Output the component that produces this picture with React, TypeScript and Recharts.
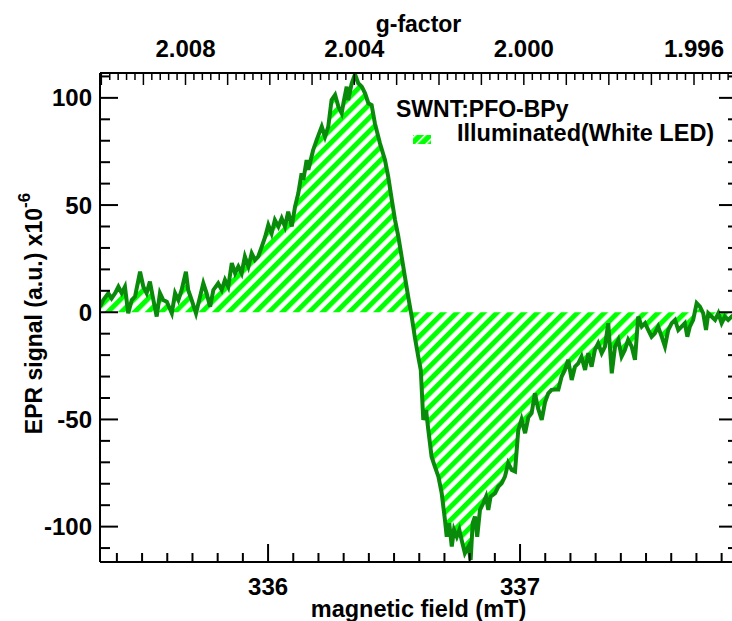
import React from 'react';
import { ComposedChart, Area, XAxis, YAxis, Legend } from 'recharts';

// magnetic field (mT)
const FIELD = [
  335.333, 335.346, 335.366, 335.379, 335.393, 335.406, 335.419, 335.432, 335.445, 335.459,
  335.472, 335.492, 335.505, 335.518, 335.531, 335.545, 335.558, 335.571, 335.584, 335.598,
  335.618, 335.631, 335.644, 335.657, 335.674, 335.683, 335.697, 335.714, 335.730, 335.743,
  335.756, 335.770, 335.783, 335.802, 335.816, 335.829, 335.842, 335.856, 335.869, 335.882,
  335.895, 335.908, 335.922, 335.935, 335.948, 335.961, 335.975, 335.988, 336.001, 336.014,
  336.027, 336.041, 336.054, 336.067, 336.080, 336.094, 336.107, 336.120, 336.133, 336.140,
  336.153, 336.160, 336.166, 336.179, 336.193, 336.213, 336.226, 336.239, 336.252, 336.266,
  336.279, 336.292, 336.299, 336.312, 336.318, 336.332, 336.345, 336.358, 336.372, 336.385,
  336.398, 336.411, 336.424, 336.444, 336.464, 336.477, 336.491, 336.504, 336.517, 336.530,
  336.543, 336.556, 336.570, 336.583, 336.596, 336.606, 336.610, 336.614, 336.616, 336.627,
  336.636, 336.649, 336.662, 336.676, 336.689, 336.702, 336.709, 336.719, 336.729, 336.738,
  336.749, 336.759, 336.768, 336.781, 336.795, 336.804, 336.812, 336.821, 336.830, 336.841,
  336.854, 336.865, 336.874, 336.883, 336.901, 336.914, 336.927, 336.940, 336.953, 336.967,
  336.980, 336.993, 337.006, 337.020, 337.033, 337.046, 337.059, 337.072, 337.086, 337.099,
  337.112, 337.125, 337.139, 337.152, 337.165, 337.178, 337.191, 337.205, 337.218, 337.231,
  337.244, 337.258, 337.271, 337.284, 337.297, 337.310, 337.324, 337.337, 337.350, 337.364,
  337.377, 337.390, 337.403, 337.416, 337.429, 337.443, 337.456, 337.469, 337.483, 337.496,
  337.509, 337.522, 337.535, 337.548, 337.562, 337.575, 337.588, 337.602, 337.615, 337.628,
  337.641, 337.654, 337.664, 337.674, 337.687, 337.701, 337.714, 337.727, 337.738, 337.747,
  337.760, 337.774, 337.787, 337.800, 337.813, 337.826, 337.840, 337.853, 337.861,
];

// EPR signal (a.u.) x10^-6
const SIGNAL = [
  2.6, 5.7, 8.9, 6.5, 8.9, 11.9, 8.9, 11.9, -0.5, 5.7,
  7.3, 18.9, 11.9, 8.9, 14.3, 5.7, -2, 8.9, 5.7, 4.9,
  -0.5, 8.9, 5.7, 10.4, 18.9, 10.4, 5.7, -0.5, 7.3, 13.5,
  8.9, 2.6, 10.4, 13.5, 10.4, 15.1, 11.9, 22.9, 18.2, 21.3,
  18.2, 26, 21.3, 27.5, 24.4, 26, 30.6, 35, 40.7, 36.8,
  43, 40, 43.8, 40, 46.9, 40, 49.3, 55.5, 64.8, 61.7,
  71, 66.4, 69.5, 75.7, 80.4, 86.6, 81.9, 86.6, 99, 101.4,
  95.9, 92.8, 97.5, 105.2, 99, 106.8, 111, 106.8, 105.2, 102.1,
  97.5, 96.7, 88.1, 78.8, 71, 63.2, 52.4, 43, 35.3, 26,
  16.6, 7.3, -2, -12, -20.7, -26.9, -36.2, -45.6, -50.2, -45.6,
  -54.9, -67.4, -72, -76.7, -84.4, -96.9, -104.7, -98.4, -109.3, -101.5,
  -104.7, -101.5, -106.2, -112.4, -109.3, -115.5, -98.4, -95.3, -104.7, -92.2,
  -89.1, -86, -92.2, -86, -84.4, -81.3, -79.8, -76.7, -70.4, -73.6,
  -74.3, -55, -50, -56.4, -49, -47.1, -37.8, -45, -50.2, -42,
  -37.8, -36.2, -36, -36, -30, -26.9, -22.2, -31.6, -25.4, -23.8,
  -20.7, -26.9, -19.1, -25.4, -17.6, -14.5, -19.1, -16, -5.1, -28.5,
  -16, -12.9, -20.7, -17.6, -12.9, -16, -22.2, -2, -6.7, -5.1,
  -8.3, -11.4, -9.8, -6.7, -11.4, -16, -8.3, -5.1, -3.6, -8.3,
  -6.7, -5.1, -11.4, -6.7, -3.6, 4.2, 2.6, -0.5, -8.3, -0.5,
  -2, -3.6, -0.5, -5.1, -2, -3.6, -2, -3, -2.5,
];

const X_DOMAIN = [335.333, 337.861];
const Y_DOMAIN = [-116.5, 111.6];
const FIELD_TICKS = [
  335.4, 335.5, 335.6, 335.7, 335.8, 335.9, 336.0, 336.1, 336.2, 336.3, 336.4, 336.5, 336.6,
  336.7, 336.8, 336.9, 337.0, 337.1, 337.2, 337.3, 337.4, 337.5, 337.6, 337.7, 337.8,
];
const FIELD_LABELS = [336, 337];
const SIGNAL_TICKS = [-110, -100, -90, -80, -70, -60, -50, -40, -30, -20, -10, 0, 10, 20, 30, 40, 50, 60, 70, 80, 90, 100, 110];
const SIGNAL_LABELS = [-100, -50, 0, 50, 100];
const G_LABELS = ['2.008', '2.004', '2.000', '1.996'];
const G_FIRST = 2.01;
const G_LAST = 1.995;
const G_STEP = 0.0002;
const G_TIMES_B = 674.03; // g * B[mT] at this microwave frequency

const data = FIELD.map((f, i) => ({ field: f, signal: SIGNAL[i] }));

// g-factor ticks placed on the field scale (B = const / g)
const gTicks: number[] = [];
for (let i = 0; G_FIRST - i * G_STEP >= G_LAST - 1e-9; i++) {
  gTicks.push(G_TIMES_B / (G_FIRST - i * G_STEP));
}

const FONT = "'Liberation Sans', Arial, sans-serif";
const LINE_GREEN = '#0a8a0a';
const HATCH_GREEN = '#00ff00';

const BottomTick = (props: any) => {
  const { x, y, payload } = props;
  const v = payload.value;
  const major = FIELD_LABELS.some((l) => Math.abs(l - v) < 1e-6);
  return (
    <g>
      <line x1={x} x2={x} y1={y} y2={y - (major ? 18 : 9)} stroke="#000" strokeWidth={2} />
      {major && (
        <text x={x} y={y + 33} textAnchor="middle" fontSize={24} fontWeight="bold" fontFamily={FONT} fill="#000">
          {Math.round(v)}
        </text>
      )}
    </g>
  );
};

const TopTick = (props: any) => {
  const { x, y, payload } = props;
  const g = G_TIMES_B / payload.value;
  const major = Math.abs(g * 1000 - Math.round(g * 1000)) < 1e-4;
  const label = g.toFixed(3);
  return (
    <g>
      <line x1={x} x2={x} y1={y} y2={y + (major ? 12 : 7)} stroke="#000" strokeWidth={1.5} />
      {major && G_LABELS.includes(label) && (
        <text x={x} y={y - 16} textAnchor="middle" fontSize={24} fontWeight="bold" fontFamily={FONT} fill="#000">
          {label}
        </text>
      )}
    </g>
  );
};

const LeftTick = (props: any) => {
  const { x, y, payload } = props;
  const v = payload.value;
  const major = SIGNAL_LABELS.includes(v);
  return (
    <g>
      <line x1={x} x2={x + (major ? 18 : 10)} y1={y} y2={y} stroke="#000" strokeWidth={2} />
      {major && (
        <text x={x - 8} y={y + 8.5} textAnchor="end" fontSize={24} fontWeight="bold" fontFamily={FONT} fill="#000">
          {v}
        </text>
      )}
    </g>
  );
};

const RightTick = (props: any) => {
  const { x, y, payload } = props;
  const major = SIGNAL_LABELS.includes(payload.value);
  return <line x1={x} x2={x - (major ? 18 : 9)} y1={y} y2={y} stroke="#000" strokeWidth={2} />;
};

const renderLegend = (props: any) => {
  const name = props.payload && props.payload[0] ? props.payload[0].value : '';
  return (
    <svg width={340} height={60} style={{ display: 'block' }}>
      <defs>
        <pattern id="hatchIcon" patternUnits="userSpaceOnUse" width={7} height={7} patternTransform="rotate(45)">
          <rect width={7} height={7} fill={HATCH_GREEN} />
          <rect width={1.5} height={7} fill="#fff" />
        </pattern>
      </defs>
      <text x={6} y={27} fontSize={23} fontWeight="bold" fontFamily={FONT} fill="#000">SWNT:PFO-BPy</text>
      <rect x={23} y={45} width={18} height={9} fill="url(#hatchIcon)" />
      <text x={67} y={51} fontSize={23.5} fontWeight="bold" fontFamily={FONT} fill="#000">{name}</text>
    </svg>
  );
};

export default function App() {
  return (
    <div style={{ position: 'absolute', left: 0, top: 0, width: 732, height: 621, overflow: 'hidden', background: '#fff' }}>
      <ComposedChart width={747} height={621} data={data} margin={{ top: 33, right: 0, bottom: 0, left: 40 }}>
        <defs>
          <pattern id="hatch" patternUnits="userSpaceOnUse" width={9.5} height={9.5} patternTransform="rotate(45)">
            <rect width={9.5} height={9.5} fill="#fff" />
            <rect width={5} height={9.5} fill={HATCH_GREEN} />
          </pattern>
        </defs>
        <XAxis
          xAxisId="bottom"
          dataKey="field"
          type="number"
          domain={X_DOMAIN}
          allowDataOverflow
          ticks={FIELD_TICKS}
          interval={0}
          height={59}
          tickSize={0}
          tickMargin={0}
          tickLine={false}
          axisLine={{ stroke: '#000', strokeWidth: 2 }}
          tick={BottomTick}
          label={(p: any) => {
            const vb = p.viewBox;
            return (
              <text x={vb.x + vb.width / 2} y={vb.y + 55} textAnchor="middle" fontSize={23.5} fontWeight="bold" fontFamily={FONT} fill="#000">
                magnetic field (mT)
              </text>
            );
          }}
        />
        <XAxis
          xAxisId="top"
          orientation="top"
          dataKey="field"
          type="number"
          domain={X_DOMAIN}
          allowDataOverflow
          ticks={gTicks}
          interval={0}
          height={40}
          tickSize={0}
          tickMargin={0}
          tickLine={false}
          axisLine={{ stroke: '#000', strokeWidth: 2 }}
          tick={TopTick}
          label={(p: any) => {
            const vb = p.viewBox;
            return (
              <text x={vb.x + vb.width / 2} y={vb.y - 1} textAnchor="middle" fontSize={23} fontWeight="bold" fontFamily={FONT} fill="#000">
                g-factor
              </text>
            );
          }}
        />
        <YAxis
          yAxisId="left"
          type="number"
          domain={Y_DOMAIN}
          allowDataOverflow
          ticks={SIGNAL_TICKS}
          interval={0}
          width={60}
          tickSize={0}
          tickMargin={0}
          tickLine={false}
          axisLine={{ stroke: '#000', strokeWidth: 2 }}
          tick={LeftTick}
          label={(p: any) => {
            const vb = p.viewBox;
            const cx = vb.x - 6;
            const cy = vb.y + vb.height / 2 - 4;
            return (
              <text x={cx} y={cy} transform={`rotate(-90 ${cx} ${cy})`} textAnchor="middle" dominantBaseline="central" fontSize={23} fontWeight="bold" fontFamily={FONT} fill="#000">
                EPR signal (a.u.) x10
                <tspan dy={-10} fontSize={17}>-6</tspan>
              </text>
            );
          }}
        />
        <YAxis
          yAxisId="right"
          orientation="right"
          dataKey="signal"
          type="number"
          domain={Y_DOMAIN}
          allowDataOverflow
          ticks={SIGNAL_TICKS}
          interval={0}
          width={10}
          tickSize={0}
          tickMargin={0}
          tickLine={false}
          axisLine={{ stroke: '#000', strokeWidth: 2 }}
          tick={RightTick}
        />
        <Legend
          layout="horizontal"
          verticalAlign="middle"
          align="center"
          content={renderLegend}
          wrapperStyle={{ left: 390, top: 90, width: 340, height: 60 }}
        />
        <Area
          xAxisId="bottom"
          yAxisId="left"
          type="linear"
          dataKey="signal"
          name="Illuminated(White LED)"
          baseValue={0}
          stroke={LINE_GREEN}
          strokeWidth={4}
          fill="url(#hatch)"
          fillOpacity={1}
          dot={false}
          activeDot={false}
          isAnimationActive={false}
        />
      </ComposedChart>
    </div>
  );
}
